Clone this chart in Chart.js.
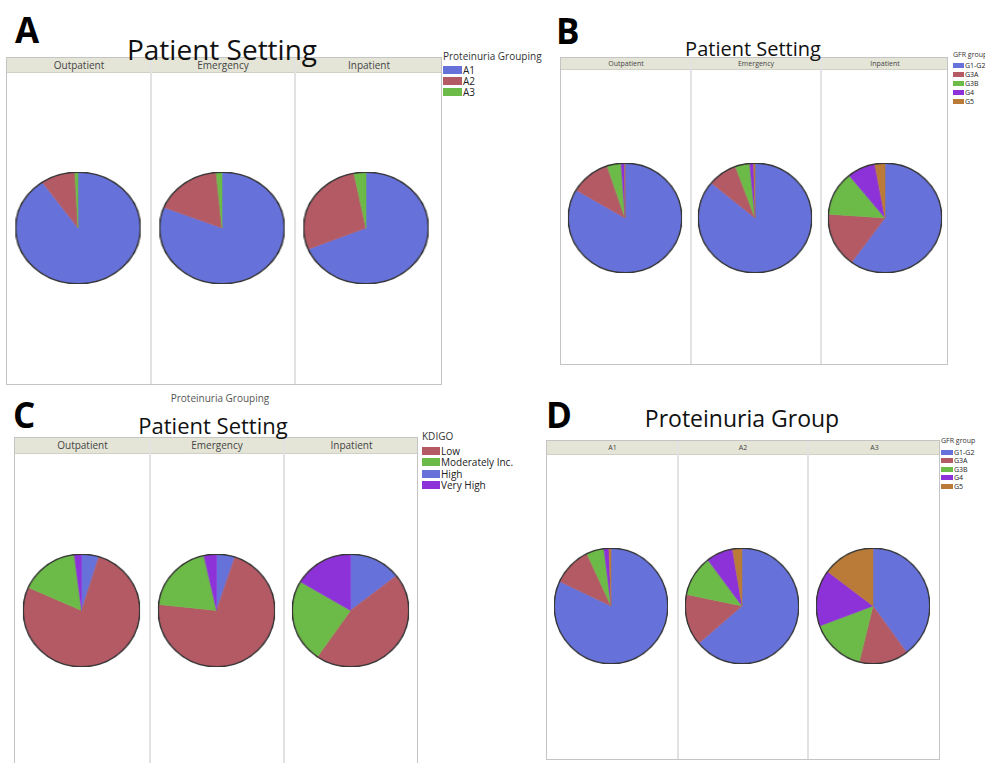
<!DOCTYPE html>
<html>
<head>
<meta charset="utf-8">
<script src="https://cdn.jsdelivr.net/npm/chart.js@4.4.0/dist/chart.umd.min.js"></script>
<style>
  body { margin: 0; background: #fff; }
  #page { position: relative; width: 985px; height: 763px; overflow: hidden; background: #fff; font-family: "Open Sans", sans-serif; color: #333; }
  .abs { position: absolute; white-space: nowrap; line-height: 1; }
  .letter { font-weight: bold; font-size: 35px; color: #000; }
  .title { color: #111; transform: translateX(-50%); }
  .box { position: absolute; border: 1px solid #c4c4c4; box-sizing: border-box; background: #fff; }
  .strip { position: absolute; left: 0; right: 0; top: 0; background: #e4e4d7; border-bottom: 1px solid #d0d0c4; }
  .divider { position: absolute; top: 0; bottom: 0; width: 2px; background: #e2e2e2; }
  .collabel { position: absolute; transform: translateX(-50%); color: #444; white-space: nowrap; }
  .sw { position: absolute; }
</style>
</head>
<body>
<div id="page"></div>
<script>
// ---- data ----
const settingCols = ["Outpatient", "Emergency", "Inpatient"];
const proteinuriaCols = ["A1", "A2", "A3"];

const proteinuriaGroups = ["A1", "A2", "A3"];
const gfrGroups = ["G1-G2", "G3A", "G3B", "G4", "G5"];
const kdigoGroups = ["Low", "Moderately Inc.", "High", "Very High"];
// pies in C start with "High" at 12 o'clock, then Low, Moderately Inc., Very High
const kdigoSliceOrder = [2, 0, 1, 3];

// A: proteinuria grouping by patient setting (%)
const protOutpatient = [90.3, 8.9, 0.8];
const protEmergency = [81.0, 17.5, 1.5];
const protInpatient = [68.8, 28.1, 3.1];

// B: GFR group by patient setting (%)
const gfrOutpatient = [83.5, 11.4, 4.0, 1.0, 0.1];
const gfrEmergency = [86.0, 8.4, 4.1, 1.1, 0.4];
const gfrInpatient = [60.0, 16.1, 13.0, 8.0, 2.9];

// C: KDIGO by patient setting (%), legend order
const kdigoOutpatient = [76.9, 16.3, 4.8, 2.0];
const kdigoEmergency = [71.6, 19.8, 5.1, 3.5];
const kdigoInpatient = [45.2, 23.9, 14.4, 16.5];

// D: GFR group by proteinuria group (%)
const gfrA1 = [82.0, 11.0, 5.0, 1.4, 0.6];
const gfrA2 = [63.8, 14.4, 11.5, 7.6, 2.7];
const gfrA3 = [39.9, 14.0, 15.5, 15.8, 14.8];

const colBlue = "#6672da";
const colRed = "#b35a65";
const colGreen = "#6cba47";
const colPurple = "#8c32d8";
const colOrange = "#b97b37";

const protColors = [colBlue, colRed, colGreen];
const gfrColors = [colBlue, colRed, colGreen, colPurple, colOrange];
const kdigoColors = [colRed, colGreen, colBlue, colPurple];

const page = document.getElementById("page");

function el(cls, css, text) {
  const d = document.createElement("div");
  d.className = cls;
  Object.assign(d.style, css);
  if (text !== undefined) d.textContent = text;
  page.appendChild(d);
  return d;
}

// dark rim round the whole pie, slices themselves have no dark edges
const rimPlugin = {
  id: "rim",
  afterDatasetsDraw(chart) {
    const arc = chart.getDatasetMeta(0).data[0];
    if (!arc) return;
    const p = arc.getProps(["x", "y", "outerRadius"], true);
    const ctx = chart.ctx;
    ctx.save();
    ctx.beginPath();
    ctx.arc(p.x, p.y, p.outerRadius, 0, Math.PI * 2);
    ctx.lineWidth = 1.5;
    ctx.strokeStyle = "#363636";
    ctx.stroke();
    ctx.restore();
  },
};

function makePie(cx, cy, rx, ry, labels, values, colors) {
  const size = Math.round(ry * 2 + 3);
  const cv = document.createElement("canvas");
  cv.width = size;
  cv.height = size;
  Object.assign(cv.style, {
    position: "absolute",
    left: cx - size / 2 + "px",
    top: cy - size / 2 + "px",
    transform: "scaleX(" + rx / ry + ")",
  });
  page.appendChild(cv);
  new Chart(cv.getContext("2d"), {
    type: "pie",
    data: {
      labels: labels,
      datasets: [
        {
          data: values,
          backgroundColor: colors,
          borderColor: colors,
          borderWidth: 0.5,
        },
      ],
    },
    options: {
      responsive: false,
      devicePixelRatio: 1,
      animation: false,
      events: [],
      plugins: { legend: { display: false }, tooltip: { enabled: false } },
    },
    plugins: [rimPlugin],
  });
}

function makePanel(p) {
  el("abs letter", { left: p.letter[1] + "px", top: p.letter[2] + "px" }, p.letter[0]);

  const b = p.box;
  const box = el("box", {
    left: b.l + "px",
    top: b.t + "px",
    width: b.r - b.l + "px",
    height: b.b - b.t + "px",
  });
  const strip = document.createElement("div");
  strip.className = "strip";
  strip.style.height = p.stripH + "px";
  box.appendChild(strip);
  const edges = [b.l, ...p.dividers, b.r];
  p.dividers.forEach((x) => {
    const d = document.createElement("div");
    d.className = "divider";
    d.style.left = x - b.l - 1 + "px";
    box.appendChild(d);
  });
  p.cols.forEach((name, i) => {
    const d = document.createElement("div");
    d.className = "collabel";
    d.textContent = name;
    d.style.left = (edges[i] + edges[i + 1]) / 2 - b.l + "px";
    d.style.top = "0px";
    d.style.fontSize = p.colFont + "px";
    d.style.lineHeight = p.stripH + "px";
    box.appendChild(d);
  });

  el("abs title", {
    left: p.title[1] + "px",
    top: p.title[2] + "px",
    fontSize: p.title[3] + "px",
  }, p.title[0]);

  p.pies.forEach((pie, i) => {
    makePie(p.pieX[i], p.pieY, p.rx, p.ry, p.sliceLabels, pie, p.sliceColors);
  });

  const lg = p.legend;
  el("abs", {
    left: lg.x + "px",
    top: lg.titleY - lg.font / 2 + "px",
    fontSize: lg.font + "px",
    color: "#333",
  }, lg.title);
  lg.labels.forEach((name, i) => {
    const top = lg.y0 + i * lg.step;
    el("sw", {
      left: lg.x + "px",
      top: top + "px",
      width: lg.sw + "px",
      height: lg.sh + "px",
      background: lg.colors[i],
    });
    el("abs", {
      left: lg.x + lg.sw + 1 + "px",
      top: top + lg.sh / 2 - lg.font / 2 + "px",
      fontSize: lg.font + "px",
      color: "#222",
    }, name);
  });
}

// A
makePanel({
  letter: ["A", 15, 12],
  title: ["Patient Setting", 222, 35, 28],
  box: { l: 6, t: 57, r: 442, b: 385 },
  stripH: 14,
  dividers: [150, 294],
  cols: settingCols,
  colFont: 10,
  pies: [protOutpatient, protEmergency, protInpatient],
  pieX: [78, 222, 366],
  pieY: 228,
  rx: 61,
  ry: 54.5,
  sliceLabels: proteinuriaGroups,
  sliceColors: protColors,
  legend: { x: 443, titleY: 56, title: "Proteinuria Grouping", labels: proteinuriaGroups, colors: protColors, y0: 66, step: 11, sw: 19, sh: 8, font: 10 },
});
el("abs", { left: "220px", top: "393px", fontSize: "10px", color: "#555", transform: "translateX(-50%)" }, "Proteinuria Grouping");

// B
makePanel({
  letter: ["B", 556, 13],
  title: ["Patient Setting", 753, 39, 20],
  box: { l: 560, t: 57, r: 948, b: 365 },
  stripH: 11,
  dividers: [690, 820],
  cols: settingCols,
  colFont: 7,
  pies: [gfrOutpatient, gfrEmergency, gfrInpatient],
  pieX: [624.5, 754.5, 885],
  pieY: 217.5,
  rx: 55.5,
  ry: 53.5,
  sliceLabels: gfrGroups,
  sliceColors: gfrColors,
  legend: { x: 953, titleY: 54.5, title: "GFR group", labels: gfrGroups, colors: gfrColors, y0: 63, step: 8.9, sw: 11, sh: 5, font: 7 },
});

// C
makePanel({
  letter: ["C", 13, 397],
  title: ["Patient Setting", 213, 414, 22],
  box: { l: 14, t: 437, r: 418, b: 775 },
  stripH: 15,
  dividers: [149, 283],
  cols: settingCols,
  colFont: 10,
  pies: [kdigoOutpatient, kdigoEmergency, kdigoInpatient].map((v) => kdigoSliceOrder.map((k) => v[k])),
  pieX: [81, 216, 350],
  pieY: 610,
  rx: 57,
  ry: 55,
  sliceLabels: kdigoSliceOrder.map((k) => kdigoGroups[k]),
  sliceColors: kdigoSliceOrder.map((k) => kdigoColors[k]),
  legend: { x: 422, titleY: 436, title: "KDIGO", labels: kdigoGroups, colors: kdigoColors, y0: 447, step: 11.3, sw: 18, sh: 8, font: 10 },
});

// D
makePanel({
  letter: ["D", 546, 397],
  title: ["Proteinuria Group", 742, 407, 23],
  box: { l: 546, t: 440, r: 940, b: 760 },
  stripH: 13,
  dividers: [677, 807],
  cols: proteinuriaCols,
  colFont: 7,
  pies: [gfrA1, gfrA2, gfrA3],
  pieX: [610.5, 741.5, 872.5],
  pieY: 606,
  rx: 55.5,
  ry: 56.5,
  sliceLabels: gfrGroups,
  sliceColors: gfrColors,
  legend: { x: 941, titleY: 440.5, title: "GFR group", labels: gfrGroups, colors: gfrColors, y0: 450, step: 8.4, sw: 12, sh: 5, font: 7 },
});
</script>
</body>
</html>
